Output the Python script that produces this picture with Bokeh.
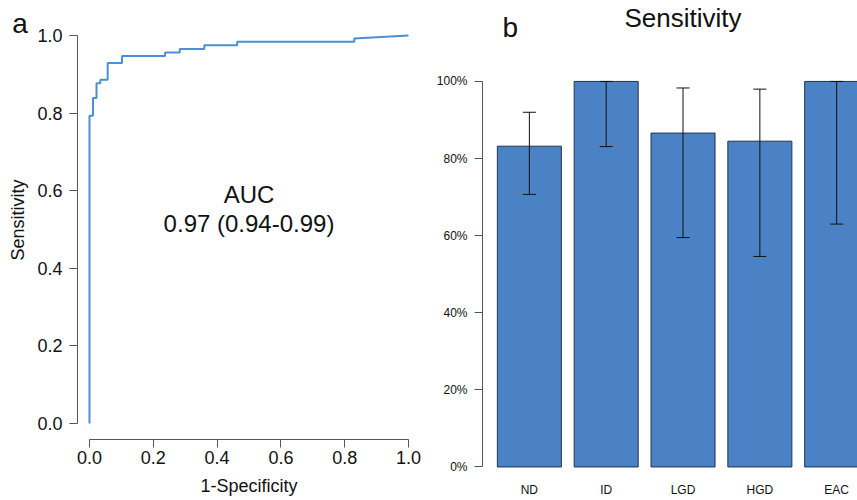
from bokeh.plotting import figure
from bokeh.models import (Range1d, FixedTicker, NumeralTickFormatter, Label,
                          Whisker, TeeHead, ColumnDataSource)
from bokeh.embed import file_html
from bokeh.resources import INLINE

# ---------------- data ----------------
# ROC curve vertices (1-Specificity, Sensitivity)
roc_fpr = [0.0, 0.0, 0.011, 0.011, 0.022, 0.022, 0.034, 0.034, 0.057, 0.057,
           0.102, 0.102, 0.237, 0.237, 0.283, 0.283, 0.36, 0.36, 0.463, 0.463,
           0.83, 0.83, 1.0]
roc_tpr = [0.0, 0.793, 0.793, 0.839, 0.839, 0.877, 0.877, 0.886, 0.886, 0.929,
           0.929, 0.947, 0.947, 0.956, 0.956, 0.965, 0.965, 0.975, 0.975, 0.984,
           0.984, 0.992, 1.0]
auc_title = "AUC"
auc_text = "0.97 (0.94-0.99)"
roc_ticks = [0.0, 0.2, 0.4, 0.6, 0.8, 1.0]

categories = ["ND", "ID", "LGD", "HGD", "EAC"]
sens = [0.832, 1.0, 0.866, 0.845, 1.0]
sens_lower = [0.707, 0.831, 0.595, 0.546, 0.630]
sens_upper = [0.920, 1.0, 0.983, 0.980, 1.0]
pct_ticks = [0.0, 0.2, 0.4, 0.6, 0.8, 1.0]

FONT = "Liberation Sans"
AXIS_COL = "#555555"
TXT_COL = "#111111"
H = 500

# ---------------- panel a: ROC ----------------
pa = figure(width=428, height=H, output_backend="svg", toolbar_location=None,
            x_range=Range1d(-0.0376, 1.0376), y_range=Range1d(-0.0412, 1.0902),
            min_border_left=77, min_border_right=8, min_border_top=0,
            min_border_bottom=61)
pa.styles = {"position": "absolute", "left": "0px", "top": "0px"}
pa.outline_line_color = None
pa.grid.visible = False
pa.background_fill_color = "white"
pa.border_fill_color = "white"

pa.line(roc_fpr, roc_tpr, line_color="#4a8fd8", line_width=2)

for ax in (pa.xaxis[0], pa.yaxis[0]):
    ax.ticker = FixedTicker(ticks=roc_ticks)
    ax.formatter = NumeralTickFormatter(format="0.0")
    ax.bounds = (0, 1)
    ax.axis_line_color = AXIS_COL
    ax.major_tick_line_color = AXIS_COL
    ax.minor_tick_line_color = None
    ax.major_tick_out = 8
    ax.major_tick_in = 0
    ax.major_label_text_font = FONT
    ax.major_label_text_font_size = "18px"
    ax.major_label_text_color = TXT_COL
    ax.axis_label_text_font = FONT
    ax.axis_label_text_font_size = "18px"
    ax.axis_label_text_font_style = "normal"
    ax.axis_label_text_color = TXT_COL
pa.xaxis[0].major_label_standoff = 3
pa.xaxis[0].axis_label = "1-Specificity"
pa.xaxis[0].axis_label_standoff = 9
pa.yaxis[0].major_label_standoff = 7
pa.yaxis[0].major_label_orientation = "horizontal"
pa.yaxis[0].axis_label = "Sensitivity"
pa.yaxis[0].axis_label_standoff = 6

pa.add_layout(Label(x=0.5, y=0.590, text=auc_title, text_font=FONT,
                    text_font_size="24px", text_align="center",
                    text_baseline="alphabetic", text_color=TXT_COL))
pa.add_layout(Label(x=0.5, y=0.516, text=auc_text, text_font=FONT,
                    text_font_size="24px", text_align="center",
                    text_baseline="alphabetic", text_color=TXT_COL))

# panel letter "a" (small overlay canvas in pixel units)
pl = figure(width=40, height=44, output_backend="svg", toolbar_location=None,
            x_range=Range1d(0, 40), y_range=Range1d(0, 44),
            min_border=0, x_axis_type=None, y_axis_type=None)
pl.styles = {"position": "absolute", "left": "0px", "top": "0px"}
pl.outline_line_color = None
pl.grid.visible = False
pl.background_fill_alpha = 0
pl.border_fill_alpha = 0
pl.add_layout(Label(x=19.5, y=21.5, text="a", text_font=FONT,
                    text_font_size="28px", text_align="center",
                    text_baseline="alphabetic", text_color=TXT_COL))

# ---------------- panel b: Sensitivity bars ----------------
centers = [0.7 + 1.2 * i for i in range(len(categories))]
src = ColumnDataSource(dict(x=centers, top=sens, lower=sens_lower, upper=sens_upper))

pb = figure(width=429, height=H, output_backend="svg", toolbar_location=None,
            x_range=Range1d(-0.032, 5.825), y_range=Range1d(-0.004, 1.2099),
            min_border_left=54, min_border_right=0, min_border_top=0,
            min_border_bottom=32)
pb.styles = {"position": "absolute", "left": "428px", "top": "0px"}
pb.outline_line_color = None
pb.grid.visible = False
pb.background_fill_color = "white"
pb.border_fill_color = "white"

pb.vbar(x="x", top="top", bottom=0, width=1.0, source=src,
        fill_color="#4a82c5", line_color="#22344d", line_width=1)
pb.add_layout(Whisker(source=src, base="x", lower="lower", upper="upper",
                      level="overlay", line_color="#111111", line_width=1,
                      upper_head=TeeHead(size=13, line_color="#111111", line_width=1),
                      lower_head=TeeHead(size=13, line_color="#111111", line_width=1)))

ya = pb.yaxis[0]
ya.ticker = FixedTicker(ticks=pct_ticks)
ya.formatter = NumeralTickFormatter(format="0%")
ya.bounds = (0, 1)
ya.axis_line_color = AXIS_COL
ya.major_tick_line_color = AXIS_COL
ya.minor_tick_line_color = None
ya.major_tick_out = 8
ya.major_tick_in = 0
ya.major_label_standoff = 7
ya.major_label_text_font = FONT
ya.major_label_text_font_size = "12px"
ya.major_label_text_color = TXT_COL

xa = pb.xaxis[0]
xa.ticker = FixedTicker(ticks=centers)
xa.major_label_overrides = {c: lab for c, lab in zip(centers, categories)}
xa.axis_line_color = None
xa.major_tick_line_color = None
xa.minor_tick_line_color = None
xa.major_label_standoff = 8
xa.major_label_text_font = FONT
xa.major_label_text_font_size = "12px"
xa.major_label_text_color = TXT_COL

pb.add_layout(Label(x=0.403, y=1.139, text="b", text_font=FONT,
                    text_font_size="28px", text_align="center",
                    text_baseline="alphabetic", text_color=TXT_COL))
pb.add_layout(Label(x=3.098, y=1.164, text="Sensitivity", text_font=FONT,
                    text_font_size="26px", text_align="center",
                    text_baseline="alphabetic", text_color=TXT_COL))

open("out.html", "w").write(file_html([pa, pb, pl], INLINE))
